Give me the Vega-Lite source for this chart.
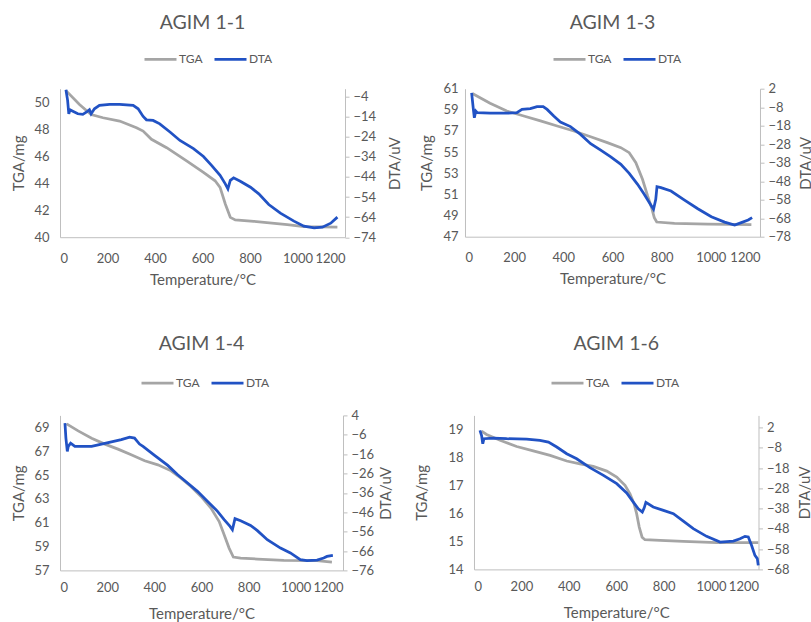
{
"$schema": "https://vega.github.io/schema/vega-lite/v6.json",
"padding": {"left": 11, "top": 12.7, "right": 0, "bottom": 0},
"spacing": 46.7,
"datasets": {
"d": [
{"p":"1-1","s":"TGA","t":25,"v":50.86},{"p":"1-1","s":"TGA","t":82,"v":49.83},{"p":"1-1","s":"TGA","t":131,"v":49.09},{"p":"1-1","s":"TGA","t":181,"v":48.85},{"p":"1-1","s":"TGA","t":251,"v":48.6},{"p":"1-1","s":"TGA","t":322,"v":48.1},{"p":"1-1","s":"TGA","t":350,"v":47.86},{"p":"1-1","s":"TGA","t":385,"v":47.25},{"p":"1-1","s":"TGA","t":449,"v":46.63},{"p":"1-1","s":"TGA","t":533,"v":45.65},{"p":"1-1","s":"TGA","t":604,"v":44.8},{"p":"1-1","s":"TGA","t":653,"v":44.18},{"p":"1-1","s":"TGA","t":674,"v":43.69},{"p":"1-1","s":"TGA","t":696,"v":42.46},{"p":"1-1","s":"TGA","t":717,"v":41.47},{"p":"1-1","s":"TGA","t":738,"v":41.28},{"p":"1-1","s":"TGA","t":816,"v":41.18},{"p":"1-1","s":"TGA","t":957,"v":40.93},{"p":"1-1","s":"TGA","t":1027,"v":40.79},{"p":"1-1","s":"TGA","t":1168,"v":40.74},
{"p":"1-1","s":"DTA","t":25,"v":-0.5},{"p":"1-1","s":"DTA","t":32,"v":-5.8},{"p":"1-1","s":"DTA","t":37,"v":-12.5},{"p":"1-1","s":"DTA","t":42,"v":-10.5},{"p":"1-1","s":"DTA","t":54,"v":-11.2},{"p":"1-1","s":"DTA","t":75,"v":-12.5},{"p":"1-1","s":"DTA","t":96,"v":-12.8},{"p":"1-1","s":"DTA","t":117,"v":-11.2},{"p":"1-1","s":"DTA","t":124,"v":-10.5},{"p":"1-1","s":"DTA","t":131,"v":-12.5},{"p":"1-1","s":"DTA","t":145,"v":-10},{"p":"1-1","s":"DTA","t":166,"v":-8.3},{"p":"1-1","s":"DTA","t":209,"v":-7.8},{"p":"1-1","s":"DTA","t":251,"v":-7.8},{"p":"1-1","s":"DTA","t":308,"v":-8.3},{"p":"1-1","s":"DTA","t":329,"v":-10},{"p":"1-1","s":"DTA","t":350,"v":-13.8},{"p":"1-1","s":"DTA","t":364,"v":-15.5},{"p":"1-1","s":"DTA","t":392,"v":-15.8},{"p":"1-1","s":"DTA","t":420,"v":-17.5},{"p":"1-1","s":"DTA","t":463,"v":-21.6},{"p":"1-1","s":"DTA","t":505,"v":-25.8},{"p":"1-1","s":"DTA","t":562,"v":-29.9},{"p":"1-1","s":"DTA","t":604,"v":-33.8},{"p":"1-1","s":"DTA","t":639,"v":-38.3},{"p":"1-1","s":"DTA","t":674,"v":-43.2},{"p":"1-1","s":"DTA","t":696,"v":-47.4},{"p":"1-1","s":"DTA","t":707,"v":-49.9},{"p":"1-1","s":"DTA","t":717,"v":-45.7},{"p":"1-1","s":"DTA","t":731,"v":-44.4},{"p":"1-1","s":"DTA","t":759,"v":-46.1},{"p":"1-1","s":"DTA","t":802,"v":-49.1},{"p":"1-1","s":"DTA","t":837,"v":-52.4},{"p":"1-1","s":"DTA","t":879,"v":-57.7},{"p":"1-1","s":"DTA","t":928,"v":-62},{"p":"1-1","s":"DTA","t":985,"v":-66},{"p":"1-1","s":"DTA","t":1027,"v":-68.5},{"p":"1-1","s":"DTA","t":1070,"v":-69.3},{"p":"1-1","s":"DTA","t":1105,"v":-69},{"p":"1-1","s":"DTA","t":1140,"v":-67},{"p":"1-1","s":"DTA","t":1168,"v":-64},
{"p":"1-3","s":"TGA","t":30,"v":60.55},{"p":"1-3","s":"TGA","t":102,"v":59.62},{"p":"1-3","s":"TGA","t":170,"v":58.89},{"p":"1-3","s":"TGA","t":239,"v":58.42},{"p":"1-3","s":"TGA","t":307,"v":57.95},{"p":"1-3","s":"TGA","t":375,"v":57.47},{"p":"1-3","s":"TGA","t":443,"v":57.0},{"p":"1-3","s":"TGA","t":511,"v":56.46},{"p":"1-3","s":"TGA","t":579,"v":55.9},{"p":"1-3","s":"TGA","t":634,"v":55.42},{"p":"1-3","s":"TGA","t":668,"v":54.95},{"p":"1-3","s":"TGA","t":695,"v":54.0},{"p":"1-3","s":"TGA","t":722,"v":52.43},{"p":"1-3","s":"TGA","t":743,"v":50.85},{"p":"1-3","s":"TGA","t":759,"v":49.74},{"p":"1-3","s":"TGA","t":770,"v":48.8},{"p":"1-3","s":"TGA","t":780,"v":48.39},{"p":"1-3","s":"TGA","t":852,"v":48.26},{"p":"1-3","s":"TGA","t":988,"v":48.2},{"p":"1-3","s":"TGA","t":1165,"v":48.14},
{"p":"1-3","s":"DTA","t":27,"v":-0.2},{"p":"1-3","s":"DTA","t":34,"v":-9.2},{"p":"1-3","s":"DTA","t":38,"v":-13.7},{"p":"1-3","s":"DTA","t":44,"v":-10.1},{"p":"1-3","s":"DTA","t":50,"v":-11},{"p":"1-3","s":"DTA","t":102,"v":-11.2},{"p":"1-3","s":"DTA","t":170,"v":-11.2},{"p":"1-3","s":"DTA","t":211,"v":-11},{"p":"1-3","s":"DTA","t":232,"v":-9.2},{"p":"1-3","s":"DTA","t":266,"v":-8.8},{"p":"1-3","s":"DTA","t":293,"v":-7.7},{"p":"1-3","s":"DTA","t":318,"v":-7.7},{"p":"1-3","s":"DTA","t":334,"v":-9.2},{"p":"1-3","s":"DTA","t":361,"v":-12.8},{"p":"1-3","s":"DTA","t":388,"v":-16},{"p":"1-3","s":"DTA","t":429,"v":-18.5},{"p":"1-3","s":"DTA","t":470,"v":-22.7},{"p":"1-3","s":"DTA","t":511,"v":-27.7},{"p":"1-3","s":"DTA","t":552,"v":-31.2},{"p":"1-3","s":"DTA","t":593,"v":-34.9},{"p":"1-3","s":"DTA","t":634,"v":-38.9},{"p":"1-3","s":"DTA","t":668,"v":-43.8},{"p":"1-3","s":"DTA","t":702,"v":-49.7},{"p":"1-3","s":"DTA","t":729,"v":-55.1},{"p":"1-3","s":"DTA","t":754,"v":-60.5},{"p":"1-3","s":"DTA","t":767,"v":-63.2},{"p":"1-3","s":"DTA","t":776,"v":-57.8},{"p":"1-3","s":"DTA","t":781,"v":-51},{"p":"1-3","s":"DTA","t":797,"v":-51.5},{"p":"1-3","s":"DTA","t":838,"v":-53.3},{"p":"1-3","s":"DTA","t":893,"v":-58.2},{"p":"1-3","s":"DTA","t":947,"v":-62.9},{"p":"1-3","s":"DTA","t":1002,"v":-67.2},{"p":"1-3","s":"DTA","t":1056,"v":-70.1},{"p":"1-3","s":"DTA","t":1097,"v":-71.7},{"p":"1-3","s":"DTA","t":1124,"v":-70.4},{"p":"1-3","s":"DTA","t":1152,"v":-69},{"p":"1-3","s":"DTA","t":1168,"v":-67.7},
{"p":"1-4","s":"TGA","t":28,"v":69.29},{"p":"1-4","s":"TGA","t":77,"v":68.7},{"p":"1-4","s":"TGA","t":134,"v":68.09},{"p":"1-4","s":"TGA","t":190,"v":67.59},{"p":"1-4","s":"TGA","t":246,"v":67.17},{"p":"1-4","s":"TGA","t":302,"v":66.69},{"p":"1-4","s":"TGA","t":359,"v":66.19},{"p":"1-4","s":"TGA","t":415,"v":65.85},{"p":"1-4","s":"TGA","t":471,"v":65.35},{"p":"1-4","s":"TGA","t":513,"v":64.74},{"p":"1-4","s":"TGA","t":555,"v":64.04},{"p":"1-4","s":"TGA","t":598,"v":63.2},{"p":"1-4","s":"TGA","t":640,"v":62.22},{"p":"1-4","s":"TGA","t":675,"v":61.1},{"p":"1-4","s":"TGA","t":696,"v":59.99},{"p":"1-4","s":"TGA","t":717,"v":58.87},{"p":"1-4","s":"TGA","t":735,"v":58.12},{"p":"1-4","s":"TGA","t":766,"v":58.03},{"p":"1-4","s":"TGA","t":837,"v":57.95},{"p":"1-4","s":"TGA","t":949,"v":57.84},{"p":"1-4","s":"TGA","t":1090,"v":57.81},{"p":"1-4","s":"TGA","t":1153,"v":57.7},
{"p":"1-4","s":"DTA","t":21,"v":0},{"p":"1-4","s":"DTA","t":25,"v":-7.7},{"p":"1-4","s":"DTA","t":31,"v":-14.6},{"p":"1-4","s":"DTA","t":35,"v":-12},{"p":"1-4","s":"DTA","t":45,"v":-10.3},{"p":"1-4","s":"DTA","t":63,"v":-12},{"p":"1-4","s":"DTA","t":134,"v":-12},{"p":"1-4","s":"DTA","t":176,"v":-10.8},{"p":"1-4","s":"DTA","t":218,"v":-9.7},{"p":"1-4","s":"DTA","t":260,"v":-8.5},{"p":"1-4","s":"DTA","t":295,"v":-7.2},{"p":"1-4","s":"DTA","t":316,"v":-7.7},{"p":"1-4","s":"DTA","t":337,"v":-10.8},{"p":"1-4","s":"DTA","t":352,"v":-12},{"p":"1-4","s":"DTA","t":401,"v":-16.6},{"p":"1-4","s":"DTA","t":457,"v":-21.8},{"p":"1-4","s":"DTA","t":499,"v":-26.6},{"p":"1-4","s":"DTA","t":541,"v":-30.9},{"p":"1-4","s":"DTA","t":583,"v":-35.2},{"p":"1-4","s":"DTA","t":626,"v":-40.4},{"p":"1-4","s":"DTA","t":668,"v":-45.5},{"p":"1-4","s":"DTA","t":696,"v":-49.8},{"p":"1-4","s":"DTA","t":721,"v":-53.3},{"p":"1-4","s":"DTA","t":731,"v":-55},{"p":"1-4","s":"DTA","t":742,"v":-49.3},{"p":"1-4","s":"DTA","t":766,"v":-50.4},{"p":"1-4","s":"DTA","t":808,"v":-52.8},{"p":"1-4","s":"DTA","t":837,"v":-55.5},{"p":"1-4","s":"DTA","t":879,"v":-60.2},{"p":"1-4","s":"DTA","t":935,"v":-64.5},{"p":"1-4","s":"DTA","t":977,"v":-67},{"p":"1-4","s":"DTA","t":1019,"v":-70.5},{"p":"1-4","s":"DTA","t":1047,"v":-71},{"p":"1-4","s":"DTA","t":1090,"v":-70.7},{"p":"1-4","s":"DTA","t":1118,"v":-69.6},{"p":"1-4","s":"DTA","t":1132,"v":-68.8},{"p":"1-4","s":"DTA","t":1157,"v":-68.3},
{"p":"1-6","s":"TGA","t":32,"v":18.94},{"p":"1-6","s":"TGA","t":53,"v":18.82},{"p":"1-6","s":"TGA","t":110,"v":18.61},{"p":"1-6","s":"TGA","t":180,"v":18.39},{"p":"1-6","s":"TGA","t":250,"v":18.23},{"p":"1-6","s":"TGA","t":321,"v":18.07},{"p":"1-6","s":"TGA","t":391,"v":17.87},{"p":"1-6","s":"TGA","t":447,"v":17.77},{"p":"1-6","s":"TGA","t":503,"v":17.68},{"p":"1-6","s":"TGA","t":560,"v":17.51},{"p":"1-6","s":"TGA","t":602,"v":17.3},{"p":"1-6","s":"TGA","t":637,"v":17.0},{"p":"1-6","s":"TGA","t":658,"v":16.7},{"p":"1-6","s":"TGA","t":675,"v":16.35},{"p":"1-6","s":"TGA","t":686,"v":15.99},{"p":"1-6","s":"TGA","t":697,"v":15.51},{"p":"1-6","s":"TGA","t":709,"v":15.15},{"p":"1-6","s":"TGA","t":721,"v":15.06},{"p":"1-6","s":"TGA","t":785,"v":15.04},{"p":"1-6","s":"TGA","t":883,"v":15.0},{"p":"1-6","s":"TGA","t":1024,"v":14.96},{"p":"1-6","s":"TGA","t":1199,"v":14.96},
{"p":"1-6","s":"DTA","t":25,"v":0.6},{"p":"1-6","s":"DTA","t":32,"v":-1.9},{"p":"1-6","s":"DTA","t":37,"v":-6},{"p":"1-6","s":"DTA","t":42,"v":-3.5},{"p":"1-6","s":"DTA","t":82,"v":-3.2},{"p":"1-6","s":"DTA","t":138,"v":-3.5},{"p":"1-6","s":"DTA","t":222,"v":-3.7},{"p":"1-6","s":"DTA","t":278,"v":-4.3},{"p":"1-6","s":"DTA","t":314,"v":-5.2},{"p":"1-6","s":"DTA","t":349,"v":-7.6},{"p":"1-6","s":"DTA","t":391,"v":-10.9},{"p":"1-6","s":"DTA","t":433,"v":-13.4},{"p":"1-6","s":"DTA","t":489,"v":-17.8},{"p":"1-6","s":"DTA","t":546,"v":-21.6},{"p":"1-6","s":"DTA","t":602,"v":-25.7},{"p":"1-6","s":"DTA","t":644,"v":-30.3},{"p":"1-6","s":"DTA","t":672,"v":-34.8},{"p":"1-6","s":"DTA","t":693,"v":-38.1},{"p":"1-6","s":"DTA","t":710,"v":-39.7},{"p":"1-6","s":"DTA","t":718,"v":-37.6},{"p":"1-6","s":"DTA","t":725,"v":-34.9},{"p":"1-6","s":"DTA","t":756,"v":-37.2},{"p":"1-6","s":"DTA","t":799,"v":-38.9},{"p":"1-6","s":"DTA","t":841,"v":-40.5},{"p":"1-6","s":"DTA","t":883,"v":-44.2},{"p":"1-6","s":"DTA","t":925,"v":-47.9},{"p":"1-6","s":"DTA","t":981,"v":-51.7},{"p":"1-6","s":"DTA","t":1038,"v":-54.5},{"p":"1-6","s":"DTA","t":1094,"v":-54},{"p":"1-6","s":"DTA","t":1122,"v":-52.9},{"p":"1-6","s":"DTA","t":1143,"v":-51.7},{"p":"1-6","s":"DTA","t":1157,"v":-52},{"p":"1-6","s":"DTA","t":1171,"v":-56.2},{"p":"1-6","s":"DTA","t":1185,"v":-61.1},{"p":"1-6","s":"DTA","t":1195,"v":-62.7},{"p":"1-6","s":"DTA","t":1199,"v":-66}
]
},
"data": {"name": "d"},
"vconcat": [
{
"hconcat": [
{
"width": 285, "height": 148.5,
"title": {"text": "AGIM 1-1", "offset": 7.8},
"transform": [{"filter": "datum.p == '1-1'"}],
"encoding": {"x": {"field": "t", "type": "quantitative", "scale": {"domain": [0, 1200], "nice": false}, "axis": {"values": [0,200,400,600,800,1000,1200], "format": "d", "title": "Temperature/°C"}}},
"layer": [
{"transform": [{"filter": "datum.s == 'TGA'"}], "mark": {"type": "line", "strokeWidth": 2.75},
"encoding": {"y": {"field": "v", "type": "quantitative", "scale": {"domain": [40, 51], "nice": false, "zero": false}, "axis": {"orient": "left", "values": [40,42,44,46,48,50], "title": "TGA/mg"}},
"color": {"field": "s", "type": "nominal", "scale": {"domain": ["TGA","DTA"], "range": ["#A5A5A5","#2152C4"]}, "legend": {"orient": "none", "legendX": 83, "legendY": -47, "direction": "horizontal", "title": null}}}},
{"transform": [{"filter": "datum.s == 'DTA'"}], "mark": {"type": "line", "strokeWidth": 2.75},
"encoding": {"y": {"field": "v", "type": "quantitative", "scale": {"domain": [-74, 0], "nice": false, "zero": false}, "axis": {"orient": "right", "values": [-74,-64,-54,-44,-34,-24,-14,-4], "title": "DTA/uV", "titleAngle": 270, "titleBaseline": "top", "ticks": true, "tickSize": 4, "titlePadding": 12}},
"color": {"field": "s", "type": "nominal", "scale": {"domain": ["TGA","DTA"], "range": ["#A5A5A5","#2152C4"]}, "legend": {"orient": "none", "legendX": 83, "legendY": -47, "direction": "horizontal", "title": null}}}}
],
"resolve": {"scale": {"y": "independent"}}
},
{
"width": 295, "height": 148,
"title": {"text": "AGIM 1-3", "offset": 7.8},
"transform": [{"filter": "datum.p == '1-3'"}],
"encoding": {"x": {"field": "t", "type": "quantitative", "scale": {"domain": [0, 1200], "nice": false}, "axis": {"values": [0,200,400,600,800,1000,1200], "format": "d", "title": "Temperature/°C"}}},
"layer": [
{"transform": [{"filter": "datum.s == 'TGA'"}], "mark": {"type": "line", "strokeWidth": 2.75},
"encoding": {"y": {"field": "v", "type": "quantitative", "scale": {"domain": [47, 61], "nice": false, "zero": false}, "axis": {"orient": "left", "values": [47,49,51,53,55,57,59,61], "title": "TGA/mg", "labelPadding": 7, "titlePadding": 8}},
"color": {"field": "s", "type": "nominal", "scale": {"domain": ["TGA","DTA"], "range": ["#A5A5A5","#2152C4"]}, "legend": {"orient": "none", "legendX": 87, "legendY": -47, "direction": "horizontal", "title": null}}}},
{"transform": [{"filter": "datum.s == 'DTA'"}], "mark": {"type": "line", "strokeWidth": 2.75},
"encoding": {"y": {"field": "v", "type": "quantitative", "scale": {"domain": [-78, 2], "nice": false, "zero": false}, "axis": {"orient": "right", "values": [-78,-68,-58,-48,-38,-28,-18,-8,2], "title": "DTA/uV", "titleAngle": 270, "titleBaseline": "top", "ticks": true, "tickSize": 4, "titlePadding": 8}},
"color": {"field": "s", "type": "nominal", "scale": {"domain": ["TGA","DTA"], "range": ["#A5A5A5","#2152C4"]}, "legend": {"orient": "none", "legendX": 87, "legendY": -47, "direction": "horizontal", "title": null}}}}
],
"resolve": {"scale": {"y": "independent"}}
}
],
"spacing": 120,
"bounds": "flush",
"resolve": {"scale": {"color": "independent"}, "legend": {"color": "independent"}}
},
{
"hconcat": [
{
"width": 283, "height": 155,
"title": {"text": "AGIM 1-4", "offset": 10.5},
"transform": [{"filter": "datum.p == '1-4'"}],
"encoding": {"x": {"field": "t", "type": "quantitative", "scale": {"domain": [0, 1200], "nice": false}, "axis": {"values": [0,200,400,600,800,1000,1200], "format": "d", "title": "Temperature/°C", "labelPadding": 11, "titlePadding": 12}}},
"layer": [
{"transform": [{"filter": "datum.s == 'TGA'"}], "mark": {"type": "line", "strokeWidth": 2.75},
"encoding": {"y": {"field": "v", "type": "quantitative", "scale": {"domain": [57, 70], "nice": false, "zero": false}, "axis": {"orient": "left", "values": [57,59,61,63,65,67,69], "title": "TGA/mg"}},
"color": {"field": "s", "type": "nominal", "scale": {"domain": ["TGA","DTA"], "range": ["#A5A5A5","#2152C4"]}, "legend": {"orient": "none", "legendX": 80, "legendY": -50, "direction": "horizontal", "title": null}}}},
{"transform": [{"filter": "datum.s == 'DTA'"}], "mark": {"type": "line", "strokeWidth": 2.75},
"encoding": {"y": {"field": "v", "type": "quantitative", "scale": {"domain": [-76, 4], "nice": false, "zero": false}, "axis": {"orient": "right", "values": [-76,-66,-56,-46,-36,-26,-16,-6,4], "title": "DTA/uV", "titleAngle": 270, "titleBaseline": "top", "ticks": true, "tickSize": 4, "titlePadding": 5}},
"color": {"field": "s", "type": "nominal", "scale": {"domain": ["TGA","DTA"], "range": ["#A5A5A5","#2152C4"]}, "legend": {"orient": "none", "legendX": 80, "legendY": -50, "direction": "horizontal", "title": null}}}}
],
"resolve": {"scale": {"y": "independent"}}
},
{
"width": 284.5, "height": 154,
"title": {"text": "AGIM 1-6", "offset": 10.5},
"transform": [{"filter": "datum.p == '1-6'"}],
"encoding": {"x": {"field": "t", "type": "quantitative", "scale": {"domain": [0, 1200], "nice": false}, "axis": {"values": [0,200,400,600,800,1000,1200], "format": "d", "title": "Temperature/°C", "labelPadding": 11, "titlePadding": 12}}},
"layer": [
{"transform": [{"filter": "datum.s == 'TGA'"}], "mark": {"type": "line", "strokeWidth": 2.75},
"encoding": {"y": {"field": "v", "type": "quantitative", "scale": {"domain": [14, 19.5], "nice": false, "zero": false}, "axis": {"orient": "left", "values": [14,15,16,17,18,19], "title": "TGA/mg", "titlePadding": 18}},
"color": {"field": "s", "type": "nominal", "scale": {"domain": ["TGA","DTA"], "range": ["#A5A5A5","#2152C4"]}, "legend": {"orient": "none", "legendX": 76, "legendY": -50, "direction": "horizontal", "title": null}}}},
{"transform": [{"filter": "datum.s == 'DTA'"}], "mark": {"type": "line", "strokeWidth": 2.75},
"encoding": {"y": {"field": "v", "type": "quantitative", "scale": {"domain": [-68, 8], "nice": false, "zero": false}, "axis": {"orient": "right", "values": [-68,-58,-48,-38,-28,-18,-8,2], "title": "DTA/uV", "titleAngle": 270, "titleBaseline": "top", "ticks": true, "tickSize": 4, "titlePadding": 8}},
"color": {"field": "s", "type": "nominal", "scale": {"domain": ["TGA","DTA"], "range": ["#A5A5A5","#2152C4"]}, "legend": {"orient": "none", "legendX": 76, "legendY": -50, "direction": "horizontal", "title": null}}}}
],
"resolve": {"scale": {"y": "independent"}}
}
],
"spacing": 131,
"bounds": "flush",
"resolve": {"scale": {"color": "independent"}, "legend": {"color": "independent"}}
}
],
"resolve": {"scale": {"color": "independent"}, "legend": {"color": "independent"}},
"config": {
"font": "Lato",
"view": {"stroke": null},
"axis": {"grid": false, "domainColor": "#BFBFBF", "domainWidth": 1, "tickColor": "#BFBFBF", "ticks": false, "tickSize": 0, "labelColor": "#595959", "titleColor": "#595959", "labelFont": "Lato", "titleFont": "Lato", "labelFontSize": 13, "titleFontSize": 15, "titleFontWeight": "normal", "labelPadding": 11, "titlePadding": 7},
"axisX": {"labelPadding": 15, "titlePadding": 7},
"axisRight": {"labelPadding": 4},
"title": {"font": "Lato", "fontSize": 19.5, "fontWeight": "normal", "color": "#595959", "anchor": "middle", "frame": "group"},
"legend": {"labelFont": "Lato", "labelFontSize": 12, "labelColor": "#595959", "symbolType": "stroke", "symbolSize": 1024, "symbolStrokeWidth": 2.75, "labelOffset": 1, "columnPadding": 6, "padding": 0}
}
}
